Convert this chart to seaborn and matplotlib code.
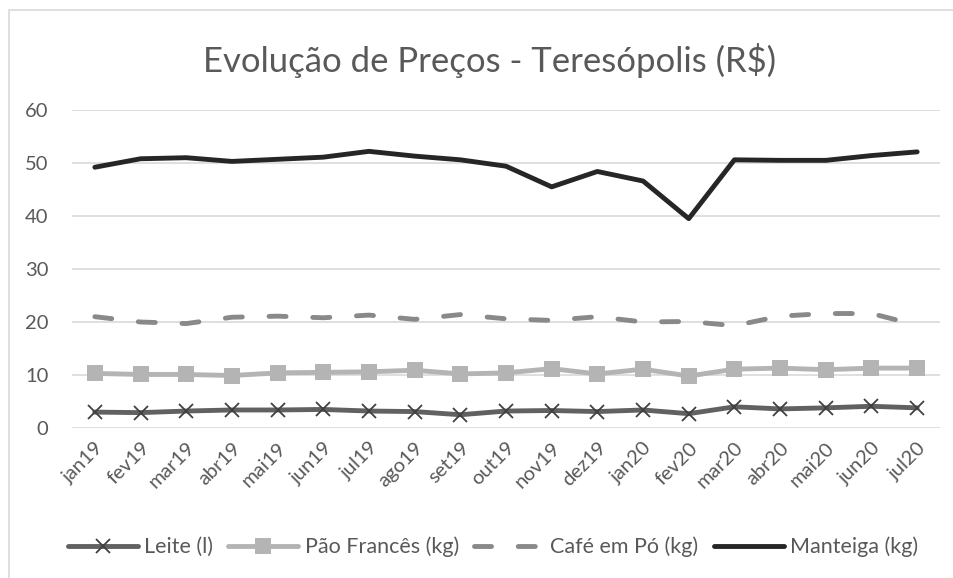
import pandas as pd
import numpy as np
import seaborn as sns
import matplotlib.pyplot as plt
from matplotlib.patches import Rectangle

# --- data ---
months = ['jan19', 'fev19', 'mar19', 'abr19', 'mai19', 'jun19', 'jul19', 'ago19',
          'set19', 'out19', 'nov19', 'dez19', 'jan20', 'fev20', 'mar20', 'abr20',
          'mai20', 'jun20', 'jul20']

leite = [3.0, 2.9, 3.2, 3.4, 3.4, 3.5, 3.2, 3.1, 2.5, 3.2,
         3.3, 3.1, 3.4, 2.7, 4.0, 3.6, 3.8, 4.1, 3.8]
pao = [10.3, 10.1, 10.1, 9.9, 10.4, 10.5, 10.6, 10.9, 10.2, 10.4,
       11.2, 10.2, 11.1, 9.8, 11.1, 11.3, 11.0, 11.3, 11.3]
cafe = [21.0, 20.0, 19.7, 20.9, 21.1, 20.8, 21.3, 20.5, 21.4, 20.6,
        20.3, 21.0, 20.0, 20.1, 19.3, 21.1, 21.6, 21.6, 19.4]
manteiga = [49.2, 50.8, 51.0, 50.3, 50.7, 51.1, 52.2, 51.3, 50.6, 49.4,
            45.5, 48.4, 46.6, 39.5, 50.6, 50.5, 50.5, 51.4, 52.1]

series_names = ['Leite (l)', 'Pão Francês (kg)', 'Café em Pó (kg)', 'Manteiga (kg)']

df = pd.DataFrame({'mes': months, series_names[0]: leite, series_names[1]: pao,
                   series_names[2]: cafe, series_names[3]: manteiga})
df['pos'] = np.arange(len(months))
long_df = df.melt(id_vars=['mes', 'pos'], var_name='serie', value_name='preco')

# --- style ---
sns.set_theme(style="white")
plt.rcParams['font.family'] = ['Lato', 'DejaVu Sans']
text_color = '#595959'
lw = 3.5
cafe_dash = (3.5, 5.5)

fig = plt.figure(figsize=(9.54, 5.78), dpi=100)
ax = fig.add_axes([72 / 954, 1 - 428 / 578, 868 / 954, 318 / 578])

palette = {'Leite (l)': '#616161', 'Pão Francês (kg)': '#b4b4b4',
           'Café em Pó (kg)': '#898989', 'Manteiga (kg)': '#262626'}
dashes = {'Leite (l)': '', 'Pão Francês (kg)': '',
          'Café em Pó (kg)': cafe_dash, 'Manteiga (kg)': ''}

sns.lineplot(data=long_df, x='pos', y='preco', hue='serie', style='serie',
             hue_order=series_names, style_order=series_names,
             palette=palette, dashes=dashes, markers=False,
             linewidth=lw, ax=ax, legend=False)


def style_line(line, name):
    line.set_solid_capstyle('round')
    line.set_dash_capstyle('round')
    line.set_solid_joinstyle('round')
    if name == 'Leite (l)':
        line.set_marker('x')
        line.set_markersize(10)
        line.set_markeredgewidth(1.3)
        line.set_markeredgecolor('#404040')
    elif name == 'Pão Francês (kg)':
        line.set_marker('s')
        line.set_markersize(11)
        line.set_markeredgewidth(0)
        line.set_markerfacecolor('#b4b4b4')


for line, name in zip(ax.get_lines(), series_names):
    style_line(line, name)

ax.set_xlim(-0.5, len(months) - 0.5)
ax.set_ylim(0, 60)
ax.set_yticks(range(0, 61, 10))
ax.set_xticks(df['pos'])
ax.set_xticklabels(months, rotation=45, ha='right', rotation_mode='anchor')
ax.yaxis.grid(True, color='#d9d9d9', linewidth=1.2)
ax.set_axisbelow(True)
for s in ax.spines.values():
    s.set_visible(False)
ax.tick_params(axis='both', length=0, colors=text_color, labelsize=14.5)
ax.tick_params(axis='y', pad=17)
ax.tick_params(axis='x', pad=8)
ax.set_xlabel('')
ax.set_ylabel('')

fig.text(490 / 954, 1 - 60 / 578, 'Evolução de Preços - Teresópolis (R$)',
         ha='center', va='center', fontsize=25, color=text_color)

# legend
handles = []
for name in series_names:
    h, = ax.plot([], [], color=palette[name], linewidth=lw)
    style_line(h, name)
    if name == 'Café em Pó (kg)':
        h.set_linestyle((0, cafe_dash))
    handles.append(h)
fig.legend(handles, series_names, loc='center', bbox_to_anchor=(493 / 954, 1 - 547 / 578),
           ncol=4, frameon=False, fontsize=15.5, handlelength=3.25, handletextpad=0.3,
           columnspacing=0.7, labelcolor=text_color)

# light chart-area border (left and top visible)
fig.patches.append(Rectangle((9 / 954, -0.1), 1.2, 1 - 10 / 578 + 0.1,
                             transform=fig.transFigure, fill=False,
                             edgecolor='#d9d9d9', linewidth=1.2))

fig.savefig('out.png', dpi=100)
